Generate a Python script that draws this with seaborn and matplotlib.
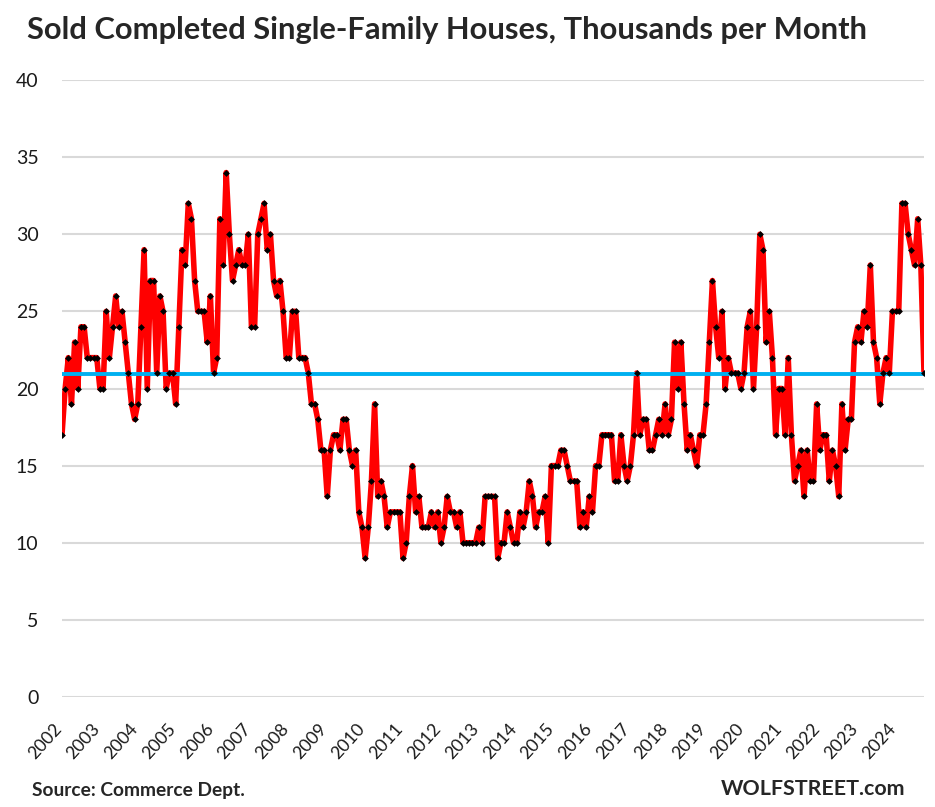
import numpy as np
import pandas as pd
import matplotlib
matplotlib.use("Agg")
import matplotlib.pyplot as plt
import matplotlib.transforms as mtransforms
import seaborn as sns

# monthly values, Jan 2002 - Oct 2024 (thousands)
sold_2002_2007 = [17, 20, 22, 19, 23, 20, 24, 24, 22, 22, 22, 22,
                  20, 20, 25, 22, 24, 26, 24, 25, 23, 21, 19, 18,
                  19, 24, 29, 20, 27, 27, 21, 26, 25, 20, 21, 21,
                  19, 24, 29, 28, 32, 31, 27, 25, 25, 25, 23, 26,
                  21, 22, 31, 28, 34, 30, 27, 28, 29, 28, 28, 30,
                  24, 24, 30, 31, 32, 29, 30, 27, 26, 27, 25, 22]
sold_2008_2013 = [22, 25, 25, 22, 22, 22, 21, 19, 19, 18, 16, 16,
                  13, 16, 17, 17, 16, 18, 18, 16, 15, 16, 12, 11,
                  9, 11, 14, 19, 13, 14, 13, 11, 12, 12, 12, 12,
                  9, 10, 13, 15, 12, 13, 11, 11, 11, 12, 11, 12,
                  10, 11, 13, 12, 12, 11, 12, 10, 10, 10, 10, 10,
                  11, 10, 13, 13, 13, 13, 9, 10, 10, 12, 11, 10]
sold_2014_2019 = [10, 12, 11, 12, 14, 13, 11, 12, 12, 13, 10, 15,
                  15, 15, 16, 16, 15, 14, 14, 14, 11, 12, 11, 13,
                  12, 15, 15, 17, 17, 17, 17, 14, 14, 17, 15, 14,
                  15, 17, 21, 17, 18, 18, 16, 16, 17, 18, 17, 19,
                  17, 18, 23, 20, 23, 19, 16, 17, 16, 15, 17, 17,
                  19, 23, 27, 24, 22, 25, 20, 22, 21, 21, 21, 20]
sold_2020_2024 = [21, 24, 25, 20, 24, 30, 29, 23, 25, 22, 17, 20,
                  20, 17, 22, 17, 14, 15, 16, 13, 16, 14, 14, 19,
                  16, 17, 17, 14, 16, 15, 13, 19, 16, 18, 18, 23,
                  24, 23, 25, 24, 28, 23, 22, 19, 21, 22, 21, 25,
                  25, 25, 32, 32, 30, 29, 28, 31, 28, 21]
long_term_avg = 20.95

sold = sold_2002_2007 + sold_2008_2013 + sold_2014_2019 + sold_2020_2024
years = list(range(2002, 2025))
y_ticks = [0, 5, 10, 15, 20, 25, 30, 35, 40]

df = pd.DataFrame({"month": np.arange(len(sold)), "sold": sold})
df["avg"] = long_term_avg

sns.set_style("white")
plt.rcParams['font.family'] = ['Lato', 'DejaVu Sans']

fig = plt.figure(figsize=(9.35, 8.07), dpi=100)
ax = fig.add_axes([62 / 935, 110 / 807, 862 / 935, 617 / 807])

sns.lineplot(data=df, x="month", y="sold", color="#ff0000", linewidth=4.0, ax=ax, zorder=2)
sns.lineplot(data=df, x="month", y="avg", color="#00b0f0", linewidth=2.8, ax=ax, zorder=3)
sns.scatterplot(data=df, x="month", y="sold", color="black", marker="D", s=12, linewidth=0, ax=ax, zorder=4)

ax.set_xlim(0, len(sold) - 1)
ax.set_ylim(0, 40)
ax.set_yticks(y_ticks)
ax.set_yticklabels([str(v) for v in y_ticks], fontsize=14, color="#1a1a1a")
ax.set_xticks([12 * i for i in range(len(years))])
ax.set_xticklabels([str(y) for y in years], fontsize=12.8, color="#1a1a1a")
ax.tick_params(axis="x", length=0, pad=21)
ax.tick_params(axis="y", length=0, pad=17)
shift = mtransforms.ScaledTranslation(-3 / 100, 0, fig.dpi_scale_trans)
for lab in ax.get_xticklabels():
    lab.set_rotation(48)
    lab.set_ha("right")
    lab.set_va("center")
    lab.set_rotation_mode("anchor")
    lab.set_transform(lab.get_transform() + shift)
ax.yaxis.grid(True, color="#d9d9d9", linewidth=1.5)
ax.set_axisbelow(True)
for s in ax.spines.values():
    s.set_visible(False)
ax.set_xlabel("")
ax.set_ylabel("")

fig.text(27 / 935, 1 - 39 / 807, "Sold Completed Single-Family Houses, Thousands per Month",
         fontsize=22.2, fontweight="bold", va="baseline", ha="left")
fig.text(32 / 935, 1 - 796 / 807, "Source: Commerce Dept.",
         fontsize=13.8, fontweight="bold", va="baseline", ha="left")
fig.text(905 / 935, 1 - 795 / 807, "WOLFSTREET.com",
         fontsize=15.4, fontweight="bold", va="baseline", ha="right")

fig.savefig("out.png", dpi=100)
